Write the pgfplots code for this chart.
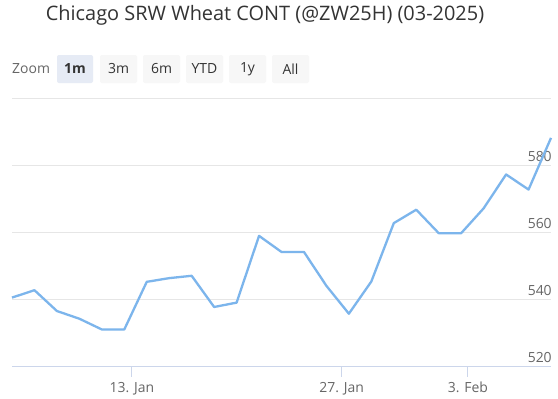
\documentclass[border=0pt]{standalone}
\usepackage{pgfplots}
\pgfplotsset{compat=1.18}
\usepackage{fontspec}
\setmainfont{Open Sans}
\definecolor{linec}{HTML}{7CB5EC}
\definecolor{gridc}{HTML}{E6E6E6}
\definecolor{axisc}{HTML}{CCD6EB}
\definecolor{titlec}{HTML}{333333}
\definecolor{labc}{HTML}{666666}
\definecolor{btnsel}{HTML}{E6EBF5}
\definecolor{btn}{HTML}{F7F7F7}
\begin{document}
\begin{tikzpicture}[x=1bp,y=1bp]
\useasboundingbox[fill=white] (0,0) rectangle (558,398);
\node[text=titlec, font=\fontsize{20}{24}\selectfont, inner sep=0pt] at (265,383) {Chicago SRW Wheat CONT (@ZW25H) (03-2025)};
\node[anchor=west, text=labc, font=\fontsize{14}{16}\selectfont, inner sep=0pt] at (12,329) {Zoom};
\foreach \xa/\xb/\lab/\fc/\ff in {57/93/1m/btnsel/\bfseries, 100/137/3m/btn/, 143/180/6m/btn/, 186/223/YTD/btn/, 229/266/1y/btn/, 272/309/All/btn/}{
  \fill[\fc, rounded corners=2bp] (\xa,315) rectangle (\xb,343);
  \node[text=titlec, font=\fontsize{14}{16}\selectfont\ff, inner sep=0pt] at ({(\xa+\xb)/2},329) {\lab};
}
\begin{axis}[
  at={(12bp,31.3bp)}, anchor=south west, scale only axis,
  width=539bp, height=268.4bp,
  xmin=0, xmax=24, ymin=520, ymax=600,
  axis line style={draw=none},
  ymajorgrids, grid style={color=gridc, line width=1bp},
  ytick={520,540,560,580,600}, yticklabels={\llap{520},\llap{540},\llap{560},\llap{580},},
  ticklabel style={font=\fontsize{14}{16}\selectfont, text=labc},
  ytick style={draw=none},
  yticklabel pos=right,
  yticklabel style={anchor=west, inner sep=0pt, xshift=-10bp, yshift=9bp},
  xtick={5.34,14.68,20.30}, xticklabels={13. Jan,27. Jan,3. Feb},
  xticklabel style={yshift=-2bp},
  xtick pos=bottom, tick align=outside,
  xtick style={color=axisc, line width=1bp},
  major tick length=10bp,
  /pgf/number format/assume math mode=true,
  clip=false,
]
\draw[axisc, line width=1bp] (rel axis cs:0,0) -- (rel axis cs:1,0);
\addplot[linec, line width=2.3bp, line join=round, no marks] coordinates {
(0,540.6) (1,542.8) (2,536.6) (3,534.3) (4,531.1) (5,531.1) (6,545.3) (7,546.4)
(8,547.1) (9,537.8) (10,539.1) (11,559.0) (12,554.2) (13,554.2) (14,544.1) (15,535.8)
(16,545.4) (17,562.8) (18,566.8) (19,559.8) (20,559.8) (21,567.2) (22,577.3) (23,572.8)
(24,588.2)
};
\end{axis}
\end{tikzpicture}
\end{document}
